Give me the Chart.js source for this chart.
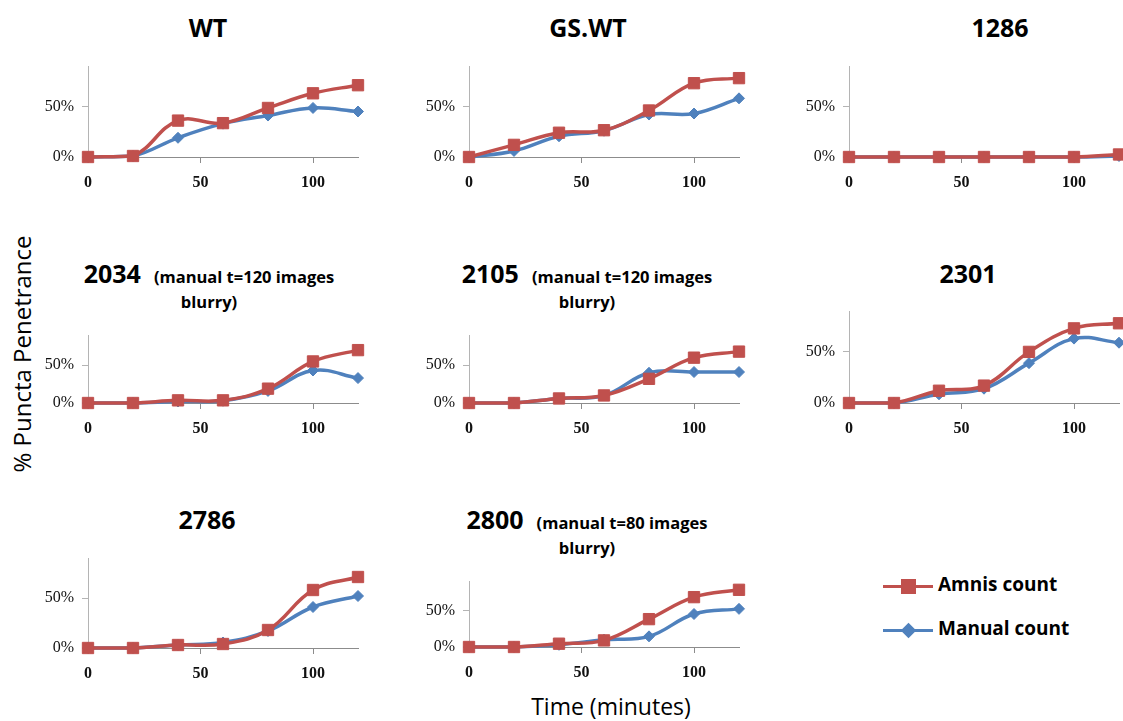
<!DOCTYPE html>
<html>
<head>
<meta charset="utf-8">
<script src="https://cdn.jsdelivr.net/npm/chart.js@4.4.1/dist/chart.umd.min.js"></script>
<style>
	body { margin: 0; background: #fff; width: 1123px; height: 721px; overflow: hidden; position: relative; font-family: "Open Sans", sans-serif; }
	canvas { position: absolute; }
	.tit { position: absolute; width: 400px; text-align: center; font-weight: 700; color: #000; white-space: nowrap; line-height: 1; }
	.tit span { font-size: 16.5px; }
	.eixo { position: absolute; color: #000; font-size: 23px; white-space: nowrap; text-align: center; line-height: 1; }
	.leg { position: absolute; }
	.legtxt { position: absolute; font-weight: 700; font-size: 19px; line-height: 1; color: #000; white-space: nowrap; }
</style>
</head>
<body>

<div class="eixo" style="left:-178px; top:342px; width:400px; font-size:24px; transform:rotate(-90deg);">% Puncta Penetrance</div>
<div class="eixo" style="left:411px; top:695px; width:400px;">Time (minutes)</div>

<div class="leg" style="left:883px; top:585px; width:50px; height:3px; background:#C0504D;"></div>
<div class="leg" style="left:901px; top:579px; width:15px; height:15px; background:#C0504D;"></div>
<div class="legtxt" style="left:938px; top:575px;">Amnis count</div>
<div class="leg" style="left:883px; top:629px; width:50px; height:3px; background:#4F81BD;"></div>
<div class="leg" style="left:903px; top:625px; width:11px; height:11px; background:#4F81BD; transform:rotate(45deg);"></div>
<div class="legtxt" style="left:938px; top:619px;">Manual count</div>

<script>

// tempo (minutos) e % de penetrancia por linhagem
var tempos = [0, 20, 40, 60, 80, 100, 120];
var ticksX = [0, 50, 100];
var ticksY = [0, 0.5];

var amnisWT    = [0, 0.01, 0.36, 0.335, 0.485, 0.63, 0.71];
var manualWT   = [0, 0.01, 0.19, 0.33, 0.41, 0.485, 0.45];
var amnisGSWT  = [0, 0.12, 0.24, 0.265, 0.46, 0.73, 0.78];
var manualGSWT = [0, 0.06, 0.205, 0.26, 0.42, 0.43, 0.58];
var amnis1286  = [0, 0, 0, 0, 0, 0, 0.025];
var manual1286 = [0, 0, 0, 0, 0, 0, 0.01];
var amnis2034  = [0, 0, 0.035, 0.035, 0.19, 0.55, 0.70];
var manual2034 = [0, 0, 0.02, 0.03, 0.16, 0.43, 0.33];
var amnis2105  = [0, 0, 0.06, 0.10, 0.32, 0.60, 0.68];
var manual2105 = [0, 0, 0.06, 0.10, 0.40, 0.41, 0.41];
var amnis2301  = [0, 0, 0.12, 0.17, 0.50, 0.73, 0.78];
var manual2301 = [0, 0, 0.085, 0.14, 0.39, 0.63, 0.59];
var amnis2786  = [0, 0, 0.03, 0.04, 0.18, 0.58, 0.71];
var manual2786 = [0, 0, 0.03, 0.055, 0.17, 0.41, 0.52];
var amnis2800  = [0, 0, 0.045, 0.09, 0.38, 0.68, 0.78];
var manual2800 = [0, 0, 0.03, 0.10, 0.145, 0.45, 0.52];

// x,y = canto superior esquerdo da area de plotagem; h = altura
var paineis = [
	{ nome: "WT",    sub: "", amnis: amnisWT,   manual: manualWT,   x: 88,  y: 66,  h: 91, cx: 208, base: 37 },
	{ nome: "GS.WT", sub: "", amnis: amnisGSWT, manual: manualGSWT, x: 469, y: 66,  h: 91, cx: 588, base: 37 },
	{ nome: "1286",  sub: "", amnis: amnis1286, manual: manual1286, x: 849, y: 66,  h: 91, cx: 1000, base: 37 },
	{ nome: "2034",  sub: "(manual t=120 images", amnis: amnis2034, manual: manual2034, x: 88,  y: 335, h: 68, cx: 209, base: 283 },
	{ nome: "2105",  sub: "(manual t=120 images", amnis: amnis2105, manual: manual2105, x: 469, y: 335, h: 68, cx: 587, base: 283 },
	{ nome: "2301",  sub: "", amnis: amnis2301, manual: manual2301, x: 849, y: 311, h: 92, cx: 968, base: 283 },
	{ nome: "2786",  sub: "", amnis: amnis2786, manual: manual2786, x: 88,  y: 558, h: 90, cx: 207, base: 529 },
	{ nome: "2800",  sub: "(manual t=80 images",  amnis: amnis2800, manual: manual2800, x: 469, y: 581, h: 66, cx: 587, base: 529 }
];

var fonteY = { family: "Liberation Serif", size: 16 };
var fonteX = { family: "Liberation Serif", size: 16, weight: "bold" };
var folgaTopo = 22;

function pontos(valores) {
	var lista = [];
	for (var i = 0; i < tempos.length; i++) {
		lista.push({ x: tempos[i], y: valores[i] });
	}
	return lista;
}

function titulo(p) {
	var div = document.createElement("div");
	div.className = "tit";
	div.style.fontSize = "25px";
	div.style.left = (p.cx - 200) + "px";
	div.style.top = (p.base - 22) + "px";
	div.innerHTML = p.nome + (p.sub ? "&nbsp;&nbsp;<span>" + p.sub + "</span>" : "");
	document.body.appendChild(div);

	if (p.sub) {
		var div2 = document.createElement("div");
		div2.className = "tit";
		div2.style.fontSize = "16.5px";
		div2.style.left = (p.cx - 200) + "px";
		div2.style.top = (p.base + 25 - 14) + "px";
		div2.innerHTML = "blurry)";
		document.body.appendChild(div2);
	}
}

function grafico(p) {
	var cv = document.createElement("canvas");
	cv.width = 60 + 270 + 16;
	cv.height = folgaTopo + p.h + 40;
	cv.style.left = (p.x - 60) + "px";
	cv.style.top = (p.y - folgaTopo) + "px";
	document.body.appendChild(cv);

	new Chart(cv, {
		type: 'line',
		data: {
			datasets: [{
				label: "Amnis count",
				data: pontos(p.amnis),
				borderColor: "#C0504D",
				backgroundColor: "#C0504D",
				borderWidth: 3.5,
				pointStyle: 'rect',
				pointRadius: 8,
				pointBorderWidth: 1,
				tension: 0.4,
				clip: false
			}, {
				label: "Manual count",
				data: pontos(p.manual),
				borderColor: "#4F81BD",
				backgroundColor: "#4F81BD",
				borderWidth: 3.5,
				pointStyle: 'rectRot',
				pointRadius: 5.5,
				pointBorderWidth: 1,
				tension: 0.4,
				clip: false
			}]
		},
		options: {
			responsive: false,
			animation: false,
			devicePixelRatio: 1,
			layout: { autoPadding: false, padding: { top: folgaTopo, right: 16, left: 0, bottom: 0 } },
			plugins: { legend: { display: false }, tooltip: { enabled: false } },
			scales: {
				x: {
					type: 'linear',
					min: 0,
					max: 120,
					afterBuildTicks: function(s) { s.ticks = ticksX.map(function(v) { return { value: v }; }); },
					afterFit: function(s) { s.height = 40; },
					grid: { drawOnChartArea: false, drawTicks: true, tickLength: 6, color: "#8c8c8c" },
					border: { color: "#8c8c8c", width: 1 },
					ticks: { font: fonteX, color: "#111", padding: 10, maxRotation: 0, autoSkip: false }
				},
				y: {
					min: 0,
					max: 0.9,
					afterBuildTicks: function(s) { s.ticks = ticksY.map(function(v) { return { value: v }; }); },
					afterFit: function(s) { s.width = 60; },
					grid: { drawOnChartArea: false, drawTicks: true, tickLength: 6, color: "#b4b4b4" },
					border: { color: "#b4b4b4", width: 1 },
					ticks: {
						font: fonteY, color: "#111", padding: 8,
						callback: function(v) { return Math.round(v * 100) + "%"; }
					}
				}
			}
		}
	});
}

for (var i = 0; i < paineis.length; i++) {
	titulo(paineis[i]);
	grafico(paineis[i]);
}

</script>
</body>
</html>
